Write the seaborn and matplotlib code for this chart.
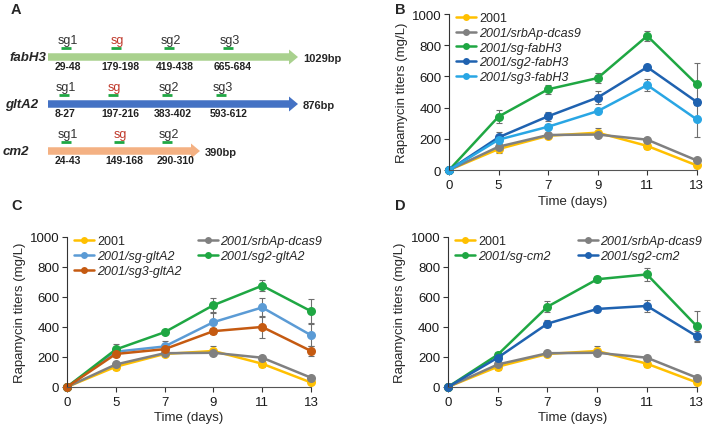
import numpy as np
import pandas as pd
import matplotlib
matplotlib.use("Agg")
import matplotlib.pyplot as plt
from matplotlib.lines import Line2D
from matplotlib.patches import FancyArrow
import seaborn as sns

# --- DATA ---
days = ["0", "5", "7", "9", "11", "13"]

wt_2001 = [0, 135, 220, 240, 155, 30]
wt_2001_err = [0, 25, 15, 30, 20, 10]
srbap = [0, 150, 225, 228, 195, 62]
srbap_err = [0, 15, 10, 12, 12, 8]

b_sg = [0, 343, 518, 590, 860, 550]
b_sg_err = [0, 40, 30, 30, 30, 135]
b_sg2 = [0, 210, 345, 465, 660, 437]
b_sg2_err = [0, 35, 30, 40, 10, 20]
b_sg3 = [0, 195, 278, 378, 545, 325]
b_sg3_err = [0, 15, 15, 15, 40, 110]

c_sg = [0, 235, 270, 432, 530, 345]
c_sg_err = [0, 20, 35, 60, 65, 75]
c_sg2 = [0, 250, 365, 545, 675, 505]
c_sg2_err = [0, 35, 15, 45, 35, 80]
c_sg3 = [0, 220, 252, 372, 400, 240]
c_sg3_err = [0, 20, 20, 20, 75, 35]

d_sg = [0, 215, 535, 718, 750, 405]
d_sg_err = [0, 15, 35, 20, 45, 100]
d_sg2 = [0, 195, 422, 520, 540, 338]
d_sg2_err = [0, 15, 25, 15, 40, 35]

genes = ["fabH3", "gltA2", "cm2"]
gene_sizes = ["1029bp", "876bp", "390bp"]
sg_names = [["sg1", "sg", "sg2", "sg3"], ["sg1", "sg", "sg2", "sg3"], ["sg1", "sg", "sg2"]]
sg_ranges = [["29-48", "179-198", "419-438", "665-684"],
             ["8-27", "197-216", "383-402", "593-612"],
             ["24-43", "149-168", "290-310"]]

# --- STYLE / LAYOUT ---
YELLOW = "#ffc000"
GRAY = "#808080"
GREEN = "#1fa743"
DBLUE = "#1f62b0"
LBLUE = "#29a6e4"
MBLUE = "#5b9bd5"
ORANGE = "#c55a11"

gene_colors = ["#a9d18e", "#4472c4", "#f4b183"]
row_y = [58, 105, 152]
arrow_end = [298, 298, 200]
name_x = [10, 5, 3]
sg_x = [[66, 116, 169, 228], [64, 113, 167, 221], [66, 119, 167]]
range_x = [[68, 120, 175, 233], [65, 120, 173, 229], [68, 124, 176]]

sns.set_theme(style="ticks")
plt.rcParams["font.family"] = ["Liberation Sans", "DejaVu Sans"]
plt.rcParams["axes.linewidth"] = 0.8

fig = plt.figure(figsize=(7.11, 4.31), dpi=100)

# Panel A diagram + panel letters on a pixel-coordinate overlay
ov = fig.add_axes([0, 0, 1, 1])
ov.set_xlim(0, 711)
ov.set_ylim(431, 0)
ov.axis("off")

for letter, (lx, ly) in zip("ABCD", [(16, 10), (400, 10), (17, 206), (400, 206)]):
    ov.text(lx, ly, letter, fontsize=10.5, fontweight="bold", ha="center", va="center")

for i, gene in enumerate(genes):
    y = row_y[i]
    ov.add_patch(FancyArrow(48, y, arrow_end[i] - 48, 0, width=7.5, head_width=15,
                            head_length=9, length_includes_head=True,
                            color=gene_colors[i], lw=0))
    ov.text(name_x[i], y, gene, fontsize=9.5, fontweight="bold", fontstyle="italic",
            ha="left", va="center")
    ov.text(arrow_end[i] + 5, y + 1, gene_sizes[i], fontsize=8, fontweight="bold",
            ha="left", va="center")
    for name, sx, rng, rx in zip(sg_names[i], sg_x[i], sg_ranges[i], range_x[i]):
        ov.text(sx + 1.5, y - 17, name, fontsize=9, ha="center", va="center",
                color="#c0392b" if name == "sg" else "#333333")
        ov.plot([sx - 5, sx + 5], [y - 9, y - 9], color=GREEN, lw=2, solid_capstyle="butt")
        ov.text(rx, y + 9, rng, fontsize=7.5, fontweight="bold", ha="center", va="center",
                color="#222222")


def draw_panel(rect, series, legend_order, ncol, colspacing):
    ax = fig.add_axes(rect)
    rows = []
    for label, vals, errs, color in series:
        for pos, (d, v) in enumerate(zip(days, vals)):
            rows.append({"pos": pos, "titer": v, "strain": label})
    df = pd.DataFrame(rows)
    palette = {s[0]: s[3] for s in series}
    sns.lineplot(data=df, x="pos", y="titer", hue="strain", hue_order=[s[0] for s in series],
                 palette=palette, marker="o", markersize=6.5, markeredgewidth=0,
                 linewidth=1.8, legend=False, ax=ax, clip_on=False)
    for label, vals, errs, color in series:
        ax.errorbar(range(len(days)), vals, yerr=errs, fmt="none", ecolor="#6e6e6e",
                    elinewidth=0.8, capsize=2, capthick=0.8, clip_on=False, zorder=1)
    ax.set_xlim(0, len(days) - 1)
    ax.set_ylim(0, 1000)
    ax.set_xticks(range(len(days)))
    ax.set_xticklabels(days)
    ax.set_yticks(range(0, 1001, 200))
    ax.tick_params(labelsize=9.5, length=3.5, width=0.8, colors="#333333", pad=2)
    ax.tick_params(axis="x", pad=3)
    ax.tick_params(labelcolor="#1a1a1a")
    for sp in ["top", "right"]:
        ax.spines[sp].set_visible(False)
    ax.spines["left"].set_color("#333333")
    ax.spines["bottom"].set_color("#555555")
    ax.set_xlabel("Time (days)", fontsize=9.5, labelpad=2.5)
    ax.set_ylabel("Rapamycin titers (mg/L)", fontsize=9.5, labelpad=3)

    handles = []
    labels = []
    for idx in legend_order:
        label, _, _, color = series[idx]
        handles.append(Line2D([], [], color=color, lw=1.8, marker="o", markersize=5,
                              markeredgewidth=0))
        labels.append(label)
    leg = ax.legend(handles, labels, loc="upper left", bbox_to_anchor=(0.0, 1.06),
                    ncol=ncol, frameon=False, fontsize=9, handlelength=1.6,
                    handletextpad=0.2, labelspacing=0.22, columnspacing=colspacing,
                    borderaxespad=0.2)
    for t in leg.get_texts():
        if t.get_text() != "2001":
            t.set_fontstyle("italic")
    return ax


series_b = [
    ("2001", wt_2001, wt_2001_err, YELLOW),
    ("2001/srbAp-dcas9", srbap, srbap_err, GRAY),
    ("2001/sg-fabH3", b_sg, b_sg_err, GREEN),
    ("2001/sg2-fabH3", b_sg2, b_sg2_err, DBLUE),
    ("2001/sg3-fabH3", b_sg3, b_sg3_err, LBLUE),
]
draw_panel([0.6315, 0.603, 0.3485, 0.362], series_b, [0, 1, 2, 3, 4], 1, 1.0)

series_c = [
    ("2001", wt_2001, wt_2001_err, YELLOW),
    ("2001/srbAp-dcas9", srbap, srbap_err, GRAY),
    ("2001/sg-gltA2", c_sg, c_sg_err, MBLUE),
    ("2001/sg2-gltA2", c_sg2, c_sg2_err, GREEN),
    ("2001/sg3-gltA2", c_sg3, c_sg3_err, ORANGE),
]
draw_panel([0.0942, 0.0998, 0.3432, 0.3482], series_c, [0, 2, 4, 1, 3], 2, 1.3)

series_d = [
    ("2001", wt_2001, wt_2001_err, YELLOW),
    ("2001/srbAp-dcas9", srbap, srbap_err, GRAY),
    ("2001/sg-cm2", d_sg, d_sg_err, GREEN),
    ("2001/sg2-cm2", d_sg2, d_sg2_err, DBLUE),
]
draw_panel([0.630, 0.0998, 0.350, 0.3482], series_d, [0, 2, 1, 3], 2, 2.2)

fig.savefig("out.png", dpi=100)
